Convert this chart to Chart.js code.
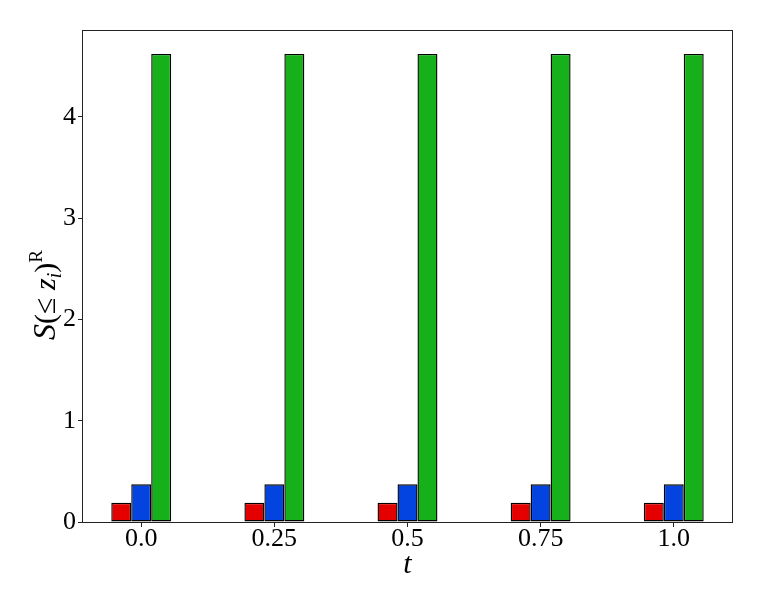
<!DOCTYPE html>
<html>
<head>
<meta charset="utf-8">
<script src="https://cdn.jsdelivr.net/npm/chart.js@4"></script>
<style>
  body { margin: 0; background: #fff; }
  #wrap { width: 763px; height: 610px; }
</style>
</head>
<body>
<div id="wrap"><canvas id="grafico"></canvas></div>
<script>
// valores
const categorias = ['0.0', '0.25', '0.5', '0.75', '1.0'];
const serieVermelha = [0.19, 0.19, 0.19, 0.19, 0.19];
const serieAzul = [0.372, 0.372, 0.372, 0.372, 0.372];
const serieVerde = [4.62, 4.62, 4.62, 4.62, 4.62];
const ticksY = [0, 1, 2, 3, 4];

const fonte = '"Liberation Serif", "DejaVu Serif", serif';

function pontos(valores) {
  return valores.map((v, i) => ({ x: i, y: v }));
}

// moldura e titulos dos eixos
const extras = {
  id: 'extras',
  afterDraw(chart) {
    const ctx = chart.ctx;
    const a = chart.chartArea;
    ctx.save();
    ctx.strokeStyle = '#222';
    ctx.lineWidth = 1;
    ctx.strokeRect(a.left + 0.5, a.top + 0.5, a.right - a.left - 1, a.bottom - a.top);

    // titulo x
    ctx.fillStyle = '#000';
    ctx.font = 'italic 30px ' + fonte;
    ctx.textAlign = 'center';
    ctx.textBaseline = 'alphabetic';
    ctx.fillText('t', (a.left + a.right) / 2, 573);

    // titulo y
    const partes = [
      { t: 'S', f: 'italic 32px ' + fonte, dy: 0 },
      { t: '(≤ ', f: '30px ' + fonte, dy: 0 },
      { t: 'z', f: 'italic 30px ' + fonte, dy: 0 },
      { t: 'i', f: 'italic 20px ' + fonte, dy: 6 },
      { t: ')', f: '30px ' + fonte, dy: 0 },
      { t: 'R', f: '19px ' + fonte, dy: -13 }
    ];
    let total = 0;
    partes.forEach(p => { ctx.font = p.f; p.w = ctx.measureText(p.t).width; total += p.w; });
    ctx.translate(55, 295);
    ctx.rotate(-Math.PI / 2);
    ctx.textAlign = 'left';
    let x = -total / 2;
    partes.forEach(p => {
      ctx.font = p.f;
      ctx.fillText(p.t, x, p.dy);
      x += p.w;
    });
    ctx.restore();
  }
};

const grafico = new Chart(document.getElementById('grafico'), {
  type: 'bar',
  data: {
    datasets: [
      { label: 'a', data: pontos(serieVermelha), backgroundColor: '#e50000' },
      { label: 'b', data: pontos(serieAzul), backgroundColor: '#0343df' },
      { label: 'c', data: pontos(serieVerde), backgroundColor: '#15b01a' }
    ]
  },
  options: {
    responsive: true,
    maintainAspectRatio: false,
    animation: false,
    layout: { padding: { top: 30, right: 30, left: 0, bottom: 0 } },
    datasets: {
      bar: {
        borderColor: '#000',
        borderWidth: 1.4,
        borderSkipped: false,
        categoryPercentage: 0.45,
        barPercentage: 1
      }
    },
    plugins: { legend: { display: false }, tooltip: { enabled: false } },
    scales: {
      x: {
        type: 'linear',
        offset: false,
        min: -0.445,
        max: 4.445,
        afterBuildTicks(scale) {
          scale.ticks = categorias.map((c, i) => ({ value: i }));
        },
        afterFit(scale) { scale.height = 88; },
        ticks: {
          callback: (v) => categorias[v],
          color: '#000',
          font: { family: fonte, size: 26 },
          padding: -3,
          maxRotation: 0
        },
        grid: { offset: false, drawOnChartArea: false, tickLength: 5, color: '#222' },
        border: { display: false }
      },
      y: {
        min: 0,
        max: 4.856,
        afterBuildTicks(scale) {
          scale.ticks = ticksY.map(v => ({ value: v }));
        },
        afterFit(scale) { scale.width = 82; },
        ticks: {
          color: '#000',
          font: { family: fonte, size: 26 },
          padding: 2
        },
        grid: { drawOnChartArea: false, tickLength: 4, color: '#222' },
        border: { display: false }
      }
    }
  },
  plugins: [extras]
});
</script>
</body>
</html>
